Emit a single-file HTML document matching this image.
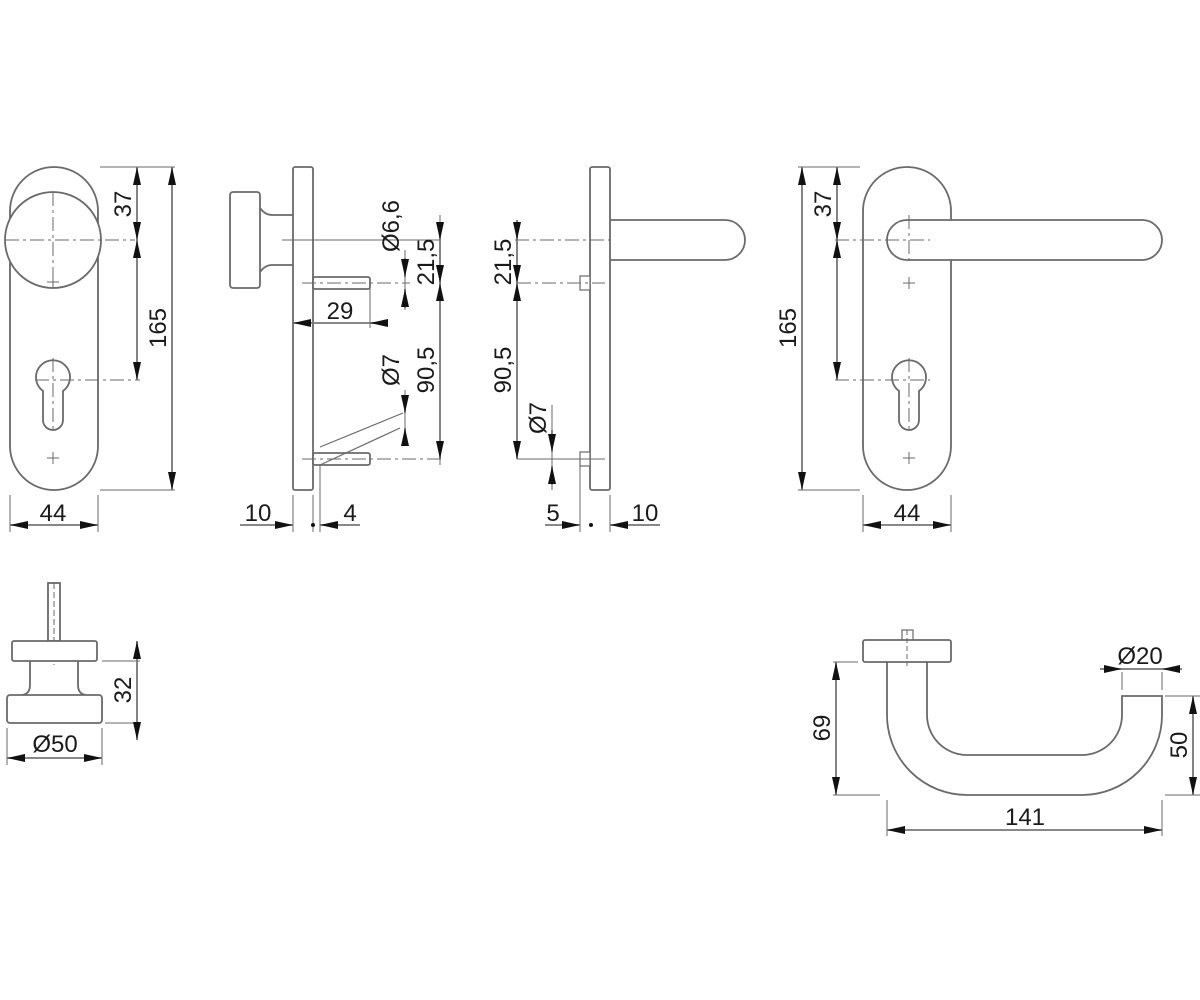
<!DOCTYPE html>
<html><head><meta charset="utf-8"><style>
html,body{margin:0;padding:0;background:#fff;}
svg{display:block;}
text{font-family:"Liberation Sans",sans-serif;font-size:24px;fill:#1a1a1a;}
</style></head><body>
<svg width="1200" height="1000" viewBox="0 0 1200 1000" xmlns="http://www.w3.org/2000/svg">
<defs>
<marker id="a" markerUnits="userSpaceOnUse" viewBox="0 -4 18 8" refX="18" refY="0" markerWidth="18" markerHeight="8" orient="auto-start-reverse"><path d="M0,-4 L18,0 L0,4 z" fill="#111"/></marker>
</defs>
<g fill="none" stroke="#6a6a6a" stroke-width="1.8">
<!-- View 1 -->
<path d="M10,211 A44,44 0 0 1 98,211 L98,446 A44,44 0 0 1 10,446 Z" fill="#fff"/>
<circle cx="53" cy="240" r="48" fill="#fff"/>
<path d="M43,391 A17,17 0 1 1 63,391 L63,420 A10,10 0 0 1 43,420 Z"/>
<g stroke-dasharray="14,4,3,4" stroke-width="1"><line x1="5" y1="240" x2="135" y2="240"/><line x1="53" y1="192" x2="53" y2="288"/><line x1="35" y1="380" x2="140" y2="380"/><line x1="53" y1="358" x2="53" y2="432"/></g>
<path d="M47,458h12M53,452v12M47,282h12M53,276v12" stroke-width="1"/>
<path d="M100,167H175M100,490H175M10,495V532M98,495V532" stroke-width="1"/>
<line x1="137" y1="167" x2="137" y2="240" marker-start="url(#a)" marker-end="url(#a)" stroke="#777"/>
<line x1="137" y1="240" x2="137" y2="380" marker-start="url(#a)" marker-end="url(#a)" stroke="#777"/>
<line x1="172" y1="167" x2="172" y2="490" marker-start="url(#a)" marker-end="url(#a)" stroke="#777"/>
<line x1="10" y1="525" x2="98" y2="525" marker-start="url(#a)" marker-end="url(#a)" stroke="#777"/>

<!-- View 2 -->
<rect x="293" y="167" width="20" height="323" rx="2" fill="#fff"/>
<rect x="230" y="192" width="30" height="96" rx="3" fill="#fff"/>
<path d="M260,208 Q265,215 272,215 L293,215 M260,272 Q265,265 272,265 L293,265"/>
<rect x="313" y="277" width="57" height="12" rx="2" fill="#fff"/>
<rect x="313" y="453" width="57" height="12" rx="2" fill="#fff"/>
<path d="M320,447 L403,413 M320,465 L400,428" stroke-width="1.2"/>
<g stroke-dasharray="14,4,3,4" stroke-width="1"><line x1="288" y1="240" x2="380" y2="240"/><line x1="302" y1="283" x2="410" y2="283"/><line x1="302" y1="459" x2="445" y2="459"/></g>
<path d="M370,283V328M405,250V310M405,390V445M440,215V465M293,495V532M313,495V532M320,465V532M282,240H440" stroke-width="1"/>
<line x1="405" y1="258" x2="405" y2="277" marker-end="url(#a)" stroke="#777"/>
<line x1="405" y1="308" x2="405" y2="289" marker-end="url(#a)" stroke="#777"/>
<line x1="405" y1="395" x2="405" y2="413" marker-end="url(#a)" stroke="#777"/>
<line x1="405" y1="446" x2="405" y2="428" marker-end="url(#a)" stroke="#777"/>
<line x1="440" y1="222" x2="440" y2="240" marker-end="url(#a)" stroke="#777"/>
<line x1="440" y1="240" x2="440" y2="283" marker-end="url(#a)" stroke="#777"/>
<line x1="440" y1="283" x2="440" y2="459" marker-start="url(#a)" marker-end="url(#a)" stroke="#777"/>
<line x1="293" y1="323" x2="387" y2="323" marker-start="url(#a)" stroke="#777"/>
<line x1="387" y1="323" x2="370" y2="323" marker-end="url(#a)" stroke="#777"/>
<line x1="240" y1="525" x2="293" y2="525" marker-end="url(#a)" stroke="#777"/>
<line x1="360" y1="525" x2="320" y2="525" marker-end="url(#a)" stroke="#777"/>

<!-- View 3 -->
<rect x="590" y="167" width="20" height="323" rx="2" fill="#fff"/>
<path d="M610,220 H725 A20,20 0 0 1 725,260 H610"/>
<rect x="580" y="276" width="10" height="14" fill="#fff" stroke-width="1.2"/>
<rect x="580" y="452" width="10" height="14" fill="#fff" stroke-width="1.2"/>
<g stroke-dasharray="14,4,3,4" stroke-width="1"><line x1="515" y1="240" x2="615" y2="240"/><line x1="517" y1="283" x2="605" y2="283"/><line x1="517" y1="459" x2="605" y2="459"/></g>
<path d="M552,405V490M580,466V532M610,495V532M520,459H600" stroke-width="1"/>
<line x1="517" y1="220" x2="517" y2="240" marker-end="url(#a)" stroke="#777"/>
<line x1="517" y1="240" x2="517" y2="283" marker-end="url(#a)" stroke="#777"/>
<line x1="517" y1="283" x2="517" y2="459" marker-start="url(#a)" marker-end="url(#a)" stroke="#777"/>
<line x1="552" y1="430" x2="552" y2="452" marker-end="url(#a)" stroke="#777"/>
<line x1="552" y1="485" x2="552" y2="466" marker-end="url(#a)" stroke="#777"/>
<line x1="545" y1="525" x2="580" y2="525" marker-end="url(#a)" stroke="#777"/>
<line x1="660" y1="525" x2="610" y2="525" marker-end="url(#a)" stroke="#777"/>

<!-- View 4 -->
<path d="M863,211 A44,44 0 0 1 951,211 L951,446 A44,44 0 0 1 863,446 Z" fill="#fff"/>
<path d="M907,220 H1142 A20,20 0 0 1 1142,260 H907 A20,20 0 0 1 907,220 Z" fill="#fff"/>
<path d="M899,391 A17,17 0 1 1 919,391 L919,420 A10,10 0 0 1 899,420 Z"/>
<g stroke-dasharray="14,4,3,4" stroke-width="1"><line x1="835" y1="240" x2="930" y2="240"/><line x1="909" y1="215" x2="909" y2="265"/><line x1="835" y1="380" x2="930" y2="380"/><line x1="909" y1="358" x2="909" y2="432"/></g>
<path d="M903,458h12M909,452v12M903,283h12M909,277v12" stroke-width="1"/>
<path d="M798,167H860M798,490H860M863,495V532M951,495V532" stroke-width="1"/>
<line x1="837" y1="167" x2="837" y2="240" marker-start="url(#a)" marker-end="url(#a)" stroke="#777"/>
<line x1="837" y1="240" x2="837" y2="380" marker-start="url(#a)" marker-end="url(#a)" stroke="#777"/>
<line x1="802" y1="167" x2="802" y2="490" marker-start="url(#a)" marker-end="url(#a)" stroke="#777"/>
<line x1="863" y1="525" x2="951" y2="525" marker-start="url(#a)" marker-end="url(#a)" stroke="#777"/>

<!-- View 5 -->
<rect x="48" y="583" width="12" height="58" fill="#fff"/>
<line x1="54" y1="583" x2="54" y2="665" stroke-dasharray="6,3" stroke-width="1"/>
<rect x="12" y="641" width="85" height="20" rx="2" fill="#fff"/>
<path d="M30,661 V685 Q30,694 22,695 M78,661 V685 Q78,694 86,695"/>
<rect x="7" y="695" width="95" height="28" rx="3" fill="#fff"/>
<path d="M102,661H140M105,723H140M7,728V765M102,728V765" stroke-width="1"/>
<line x1="137" y1="641" x2="137" y2="740" marker-start="url(#a)" marker-end="url(#a)" stroke="#777"/>
<line x1="7" y1="758" x2="102" y2="758" marker-start="url(#a)" marker-end="url(#a)" stroke="#777"/>

<!-- View 6 -->
<rect x="902" y="630" width="11" height="12" fill="#fff" stroke-width="1.2"/>
<rect x="863" y="640" width="88" height="22" rx="2" fill="#fff"/>
<line x1="907" y1="630" x2="907" y2="666" stroke-dasharray="5,3" stroke-width="1"/>
<path d="M887,662 V715 A80,80 0 0 0 967,795 H1082 A80,80 0 0 0 1162,715 V696 H1122 V715 A40,40 0 0 1 1082,755 H967 A40,40 0 0 1 927,715 V662"/>
<path d="M833,662H858M833,795H880M1165,696H1200M1165,795H1200M1122,672V690M1162,672V690M887,800V836M1162,800V836" stroke-width="1"/>
<line x1="836" y1="662" x2="836" y2="795" marker-start="url(#a)" marker-end="url(#a)" stroke="#777"/>
<line x1="1193" y1="696" x2="1193" y2="795" marker-start="url(#a)" marker-end="url(#a)" stroke="#777"/>
<line x1="1100" y1="669" x2="1122" y2="669" marker-end="url(#a)" stroke="#777"/>
<line x1="1182" y1="669" x2="1162" y2="669" marker-end="url(#a)" stroke="#777"/>
<line x1="1122" y1="669" x2="1162" y2="669" stroke="#777"/>
<line x1="887" y1="830" x2="1162" y2="830" marker-start="url(#a)" marker-end="url(#a)" stroke="#777"/>
</g>
<circle cx="313" cy="525" r="2" fill="#111"/>
<circle cx="591" cy="525" r="2" fill="#111"/>
<g>
<text x="53" y="521" text-anchor="middle">44</text>
<text transform="translate(131,204) rotate(-90)" text-anchor="middle">37</text>
<text transform="translate(166,328) rotate(-90)" text-anchor="middle">165</text>
<text x="340" y="319" text-anchor="middle">29</text>
<text transform="translate(399,226) rotate(-90)" text-anchor="middle">Ø6,6</text>
<text transform="translate(434,262) rotate(-90)" text-anchor="middle">21,5</text>
<text transform="translate(399,370) rotate(-90)" text-anchor="middle">Ø7</text>
<text transform="translate(434,370) rotate(-90)" text-anchor="middle">90,5</text>
<text x="258" y="521" text-anchor="middle">10</text>
<text x="350" y="521" text-anchor="middle">4</text>
<text transform="translate(511,262) rotate(-90)" text-anchor="middle">21,5</text>
<text transform="translate(511,370) rotate(-90)" text-anchor="middle">90,5</text>
<text transform="translate(546,418) rotate(-90)" text-anchor="middle">Ø7</text>
<text x="553" y="521" text-anchor="middle">5</text>
<text x="645" y="521" text-anchor="middle">10</text>
<text transform="translate(831,204) rotate(-90)" text-anchor="middle">37</text>
<text transform="translate(796,328) rotate(-90)" text-anchor="middle">165</text>
<text x="907" y="521" text-anchor="middle">44</text>
<text transform="translate(131,690) rotate(-90)" text-anchor="middle">32</text>
<text x="55" y="752" text-anchor="middle">Ø50</text>
<text transform="translate(830,728) rotate(-90)" text-anchor="middle">69</text>
<text transform="translate(1187,745) rotate(-90)" text-anchor="middle">50</text>
<text x="1140" y="664" text-anchor="middle">Ø20</text>
<text x="1025" y="825" text-anchor="middle">141</text>
</g>
</svg>
</body></html>
